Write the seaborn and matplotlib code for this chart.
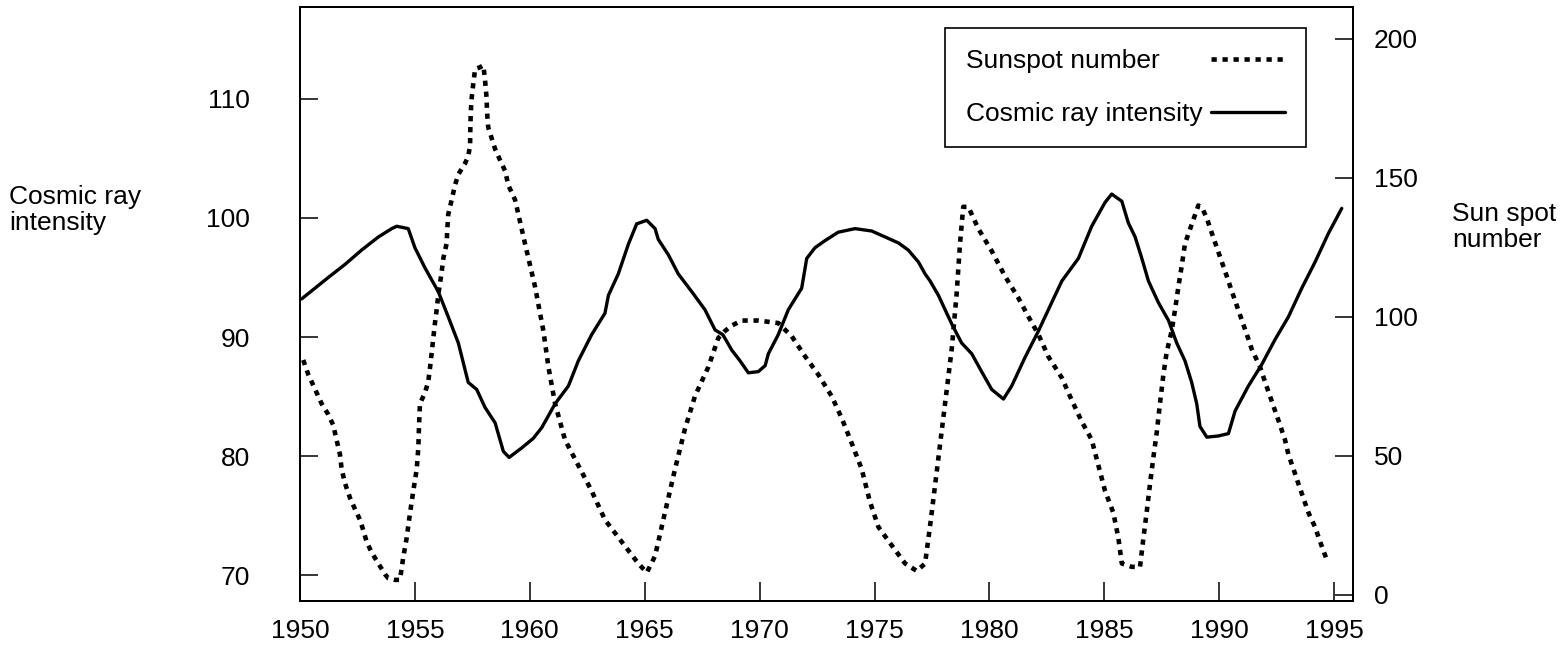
import matplotlib
matplotlib.use("Agg")
import matplotlib.pyplot as plt
import seaborn as sns

# Cosmic ray intensity (left axis)
cosmic_year = [
    1950.07, 1950.65, 1951.23, 1951.96, 1952.68, 1953.41, 1953.99, 1954.21, 1954.71, 1955.00,
    1955.44, 1956.02, 1956.45, 1956.89, 1957.32, 1957.69, 1958.05, 1958.49, 1958.85, 1959.10,
    1959.65, 1960.15, 1960.52, 1961.10, 1961.68, 1962.11, 1962.69, 1963.27, 1963.42, 1963.85,
    1964.29, 1964.65, 1965.09, 1965.45, 1965.59, 1966.03, 1966.46, 1967.05, 1967.62, 1968.06,
    1968.40, 1968.79, 1969.15, 1969.51, 1969.94, 1970.24, 1970.38, 1970.81, 1971.25, 1971.83,
    1972.05, 1972.41, 1972.85, 1973.42, 1974.15, 1974.88, 1975.46, 1976.04, 1976.47, 1976.91,
    1977.20, 1977.42, 1977.78, 1978.36, 1978.79, 1979.23, 1979.66, 1980.10, 1980.61, 1980.97,
    1981.55, 1982.13, 1982.71, 1983.15, 1983.87, 1984.45, 1985.03, 1985.32, 1985.76, 1986.04,
    1986.34, 1986.60, 1986.92, 1987.35, 1987.79, 1988.15, 1988.51, 1988.80, 1989.02, 1989.16,
    1989.46, 1989.96, 1990.40, 1990.69, 1991.27, 1991.85, 1992.43, 1993.01, 1993.59, 1994.17,
    1994.75, 1995.33,
]
cosmic_val = [
    93.2, 94.1, 95.0, 96.1, 97.3, 98.4, 99.1, 99.3, 99.1, 97.5,
    95.8, 93.8, 91.7, 89.5, 86.2, 85.6, 84.1, 82.8, 80.4, 79.9,
    80.7, 81.5, 82.4, 84.4, 85.9, 88.0, 90.2, 92.0, 93.5, 95.3,
    97.8, 99.5, 99.8, 99.1, 98.2, 96.9, 95.3, 93.8, 92.3, 90.6,
    90.2, 88.9, 88.0, 87.0, 87.1, 87.6, 88.6, 90.2, 92.3, 94.1,
    96.6, 97.5, 98.1, 98.8, 99.1, 98.9, 98.4, 97.9, 97.3, 96.3,
    95.3, 94.7, 93.5, 91.1, 89.5, 88.6, 87.1, 85.6, 84.8, 85.9,
    88.3, 90.5, 92.9, 94.7, 96.6, 99.3, 101.3, 102.0, 101.4, 99.6,
    98.4, 96.8, 94.7, 92.9, 91.4, 89.5, 88.0, 86.2, 84.4, 82.5,
    81.6, 81.7, 81.9, 83.8, 85.9, 87.7, 89.8, 91.7, 94.1, 96.3,
    98.7, 100.8,
]

# Sunspot number (right axis)
sunspot_year = [
    1950.14, 1950.36, 1950.65, 1950.94, 1951.23, 1951.45, 1951.59, 1951.74, 1951.81, 1951.96,
    1952.18, 1952.39, 1952.61, 1952.76, 1952.90, 1953.12, 1953.41, 1953.70, 1953.84, 1954.13,
    1954.35, 1954.50, 1954.64, 1954.79, 1954.93, 1955.08, 1955.15, 1955.18, 1955.22, 1955.44,
    1955.58, 1955.66, 1955.73, 1955.80, 1955.87, 1955.95, 1956.02, 1956.16, 1956.24, 1956.38,
    1956.41, 1956.45, 1956.60, 1956.74, 1956.89, 1957.18, 1957.32, 1957.40, 1957.41, 1957.43,
    1957.47, 1957.54, 1957.62, 1957.83, 1957.98, 1958.05, 1958.12, 1958.14, 1958.19, 1958.34,
    1958.49, 1958.70, 1958.92, 1959.07, 1959.36, 1959.79, 1960.23, 1960.59, 1960.81, 1961.10,
    1961.53, 1962.11, 1962.69, 1963.27, 1964.00, 1964.72, 1965.09, 1965.45, 1965.88, 1966.32,
    1966.75, 1967.19, 1967.77, 1968.20, 1968.50, 1968.79, 1969.22, 1969.94, 1970.81, 1971.40,
    1971.98, 1972.55, 1973.14, 1973.57, 1974.01, 1974.44, 1974.80, 1975.17, 1975.75, 1976.33,
    1976.84, 1977.20, 1977.45, 1977.78, 1978.07, 1978.36, 1978.57, 1978.72, 1978.86, 1979.08,
    1979.52, 1980.10, 1980.68, 1981.26, 1981.69, 1982.13, 1982.56, 1983.15, 1983.58, 1984.02,
    1984.45, 1984.74, 1985.03, 1985.39, 1985.61, 1985.76, 1986.19, 1986.55, 1986.70, 1986.84,
    1986.99, 1987.13, 1987.28, 1987.42, 1987.57, 1987.71, 1987.93, 1988.08, 1988.22, 1988.37,
    1988.51, 1988.73, 1988.95, 1989.09, 1989.24, 1989.46, 1989.67, 1989.89, 1990.11, 1990.33,
    1990.54, 1990.76, 1990.98, 1991.20, 1991.41, 1991.78, 1991.99, 1992.21, 1992.43, 1992.65,
    1992.86, 1993.01, 1993.23, 1993.44, 1993.66, 1993.88, 1994.17, 1994.39, 1994.68,
]
sunspot_val = [
    84.5, 79.3, 74.1, 68.8, 64.9, 61.0, 55.8, 50.5, 45.3, 40.1,
    34.8, 30.9, 27.0, 23.1, 19.1, 15.2, 11.3, 7.4, 6.0, 5.4,
    5.4, 13.9, 20.4, 29.6, 37.4, 45.3, 53.1, 61.0, 68.8, 72.8,
    76.7, 81.9, 87.2, 92.4, 97.6, 102.8, 108.1, 115.9, 121.2, 126.4,
    131.6, 136.9, 142.1, 147.3, 151.3, 155.2, 157.8, 161.7, 166.9, 173.5,
    178.7, 183.9, 189.2, 189.8, 190.5, 185.3, 178.7, 173.5, 168.2, 164.3,
    160.4, 156.5, 152.6, 147.3, 142.1, 126.4, 110.8, 95.0, 82.0, 68.8,
    55.8, 46.6, 37.4, 27.0, 19.1, 11.3, 8.0, 14.0, 29.6, 45.3,
    59.7, 71.6, 82.0, 92.4, 95.0, 96.9, 98.7, 98.7, 97.8, 93.0,
    85.8, 79.3, 71.4, 63.6, 54.5, 45.3, 33.5, 24.4, 17.8, 11.3,
    8.6, 11.3, 27.0, 49.3, 68.8, 88.5, 108.1, 126.4, 139.6, 139.6,
    131.7, 123.7, 114.6, 106.8, 100.2, 93.7, 85.8, 78.1, 70.1, 62.3,
    55.8, 46.6, 37.4, 29.6, 20.5, 11.3, 10.1, 10.0, 20.4, 29.6,
    40.1, 49.2, 58.4, 68.8, 79.3, 87.2, 95.0, 102.8, 110.7, 118.5,
    126.4, 131.6, 136.9, 140.1, 139.5, 135.5, 130.3, 125.1, 119.9, 114.6,
    109.4, 104.1, 98.9, 93.7, 88.5, 81.9, 76.7, 71.4, 66.2, 61.0,
    55.8, 50.5, 45.3, 40.1, 34.8, 29.6, 24.4, 19.1, 12.6,
]

year_ticks = list(range(1950, 1996, 5))
cosmic_ticks = [70, 80, 90, 100, 110]
sunspot_ticks = [0, 50, 100, 150, 200]

sns.set_theme(style="ticks")
plt.rcParams["font.family"] = ["Liberation Sans", "DejaVu Sans"]
plt.rcParams["text.color"] = "black"
FS = 19
LEG_FS = 19

W, H = 1567, 646
fig = plt.figure(figsize=(W / 100, H / 100), dpi=100)
ax = fig.add_axes([300 / W, 1 - 601 / H, 1053 / W, 594 / H])
ax2 = ax.twinx()

sns.lineplot(x=cosmic_year, y=cosmic_val, ax=ax, color="black", linewidth=2.4,
             estimator=None, sort=False)
sns.lineplot(x=sunspot_year, y=sunspot_val, ax=ax2, color="black", linewidth=3.3,
             estimator=None, sort=False, linestyle=(0, (1.15, 1.25)))

cosmic_line = ax.lines[-1]
sun_line = ax2.lines[-1]
sun_line.set_dash_capstyle("butt")

ax.set_xlim(1950, 1995.82)
ax.set_ylim(67.85, 117.7)
ax2.set_ylim(-2.2, 211.5)

ax.set_xticks(year_ticks)
ax.set_yticks(cosmic_ticks)
ax2.set_yticks(sunspot_ticks)

for a in (ax, ax2):
    for s in a.spines.values():
        s.set_visible(True)
        s.set_color("black")
        s.set_linewidth(1.4)
    a.grid(False)

ax.tick_params(axis="x", direction="in", length=14, width=1.1, pad=13,
               labelsize=FS, colors="black", top=False)
ax.tick_params(axis="y", direction="in", length=12.7, width=1.1, pad=36,
               labelsize=FS, colors="black", right=False)
ax2.tick_params(axis="y", direction="in", length=12.7, width=1.1, pad=15,
                labelsize=FS, colors="black")

ax.set_xlabel("")
ax.set_ylabel("Cosmic ray\nintensity", rotation=0, ha="left", va="center",
              fontsize=FS, linespacing=1.1, color="black")
ax.yaxis.set_label_coords(9 / W, 1 - 210 / H, transform=fig.transFigure)
ax2.set_ylabel("Sun spot\nnumber", rotation=0, ha="left", va="center",
               fontsize=FS, linespacing=1.1, color="black")
ax2.yaxis.set_label_coords(1452 / W, 1 - 227 / H, transform=fig.transFigure)

leg = fig.legend([sun_line, cosmic_line], ["Sunspot number", "Cosmic ray intensity"],
                 loc="upper right", bbox_to_anchor=(1306 / W, 1 - 28 / H),
                 bbox_transform=fig.transFigure, borderaxespad=0,
                 markerfirst=False, fontsize=LEG_FS, labelcolor="black",
                 handlelength=2.8, handletextpad=0.3, labelspacing=1.1,
                 borderpad=0.8, fancybox=False, framealpha=1, edgecolor="black")
leg.get_frame().set_linewidth(1.2)

# keep the label texts left-aligned while the handles stay in one column
fig.canvas.draw()
renderer = fig.canvas.get_renderer()
widths = [t.get_window_extent(renderer).width for t in leg.get_texts()]
items = leg._legend_handle_box.get_children()[0].get_children()
for item, w in zip(items, widths):
    item.sep += (max(widths) - w) * 72 / fig.dpi

fig.savefig("out.png", dpi=100)
